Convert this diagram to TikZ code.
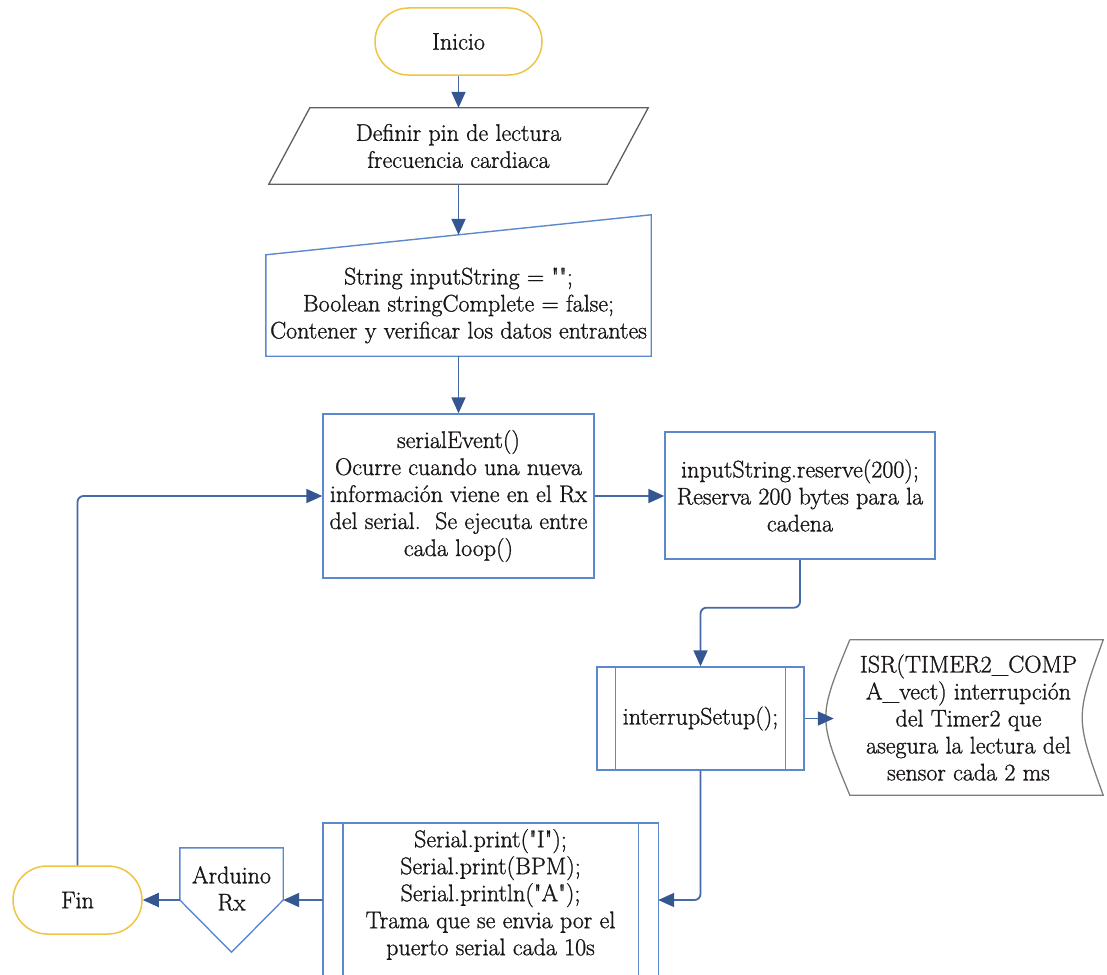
\documentclass[tikz,border=0pt]{standalone}
\usepackage{fontspec}
\setmainfont{Latin Modern Roman}[FakeBold=1.1]
\usetikzlibrary{arrows.meta,calc}

\definecolor{boxblue}{RGB}{92,137,205}
\definecolor{linkblue}{RGB}{70,106,165}
\definecolor{tipblue}{RGB}{52,86,145}
\definecolor{termgold}{RGB}{240,196,64}
\definecolor{ioframe}{RGB}{95,95,95}
\definecolor{dataframe}{RGB}{125,125,125}
\definecolor{ink}{RGB}{26,22,22}

\begin{document}
\begin{tikzpicture}[x=1pt,y=-1pt,
  every node/.style={font=\fontsize{24}{27}\selectfont, text=ink, align=center, inner sep=0pt},
  terminal/.style={draw=termgold, line width=1.5pt, rounded corners=#1},
  proc/.style={draw=boxblue, line width=1.4pt},
  link/.style={draw=linkblue, line width=1.8pt, -{Triangle[length=16pt,width=14pt,color=tipblue]}},
]
\useasboundingbox (0,0) rectangle (1107,974);
\clip (0,0) rectangle (1107,974);

% start terminal
\node[terminal=33.5pt, minimum width=167pt, minimum height=67pt] (ini) at (458.5,41.5) {Inicio};

% input/output parallelogram
\node[minimum width=379pt, minimum height=76pt] (par) at (458.5,146) {Definir pin de lectura\\frecuencia cardiaca};
\draw[ioframe, line width=1.3pt] ([xshift=41pt]par.north west) -- (par.north east)
  -- ([xshift=-41pt]par.south east) -- (par.south west) -- cycle;

% manual input
\node[minimum width=385pt, minimum height=101pt] (inp) at (458.5,305.5)
  {String inputString = \textquotedbl\textquotedbl;\\Boolean stringComplete = false;\\Contener y verificar los datos entrantes};
\draw[proc] (inp.north west) -- ([yshift=40pt]inp.north east) -- (inp.south east) -- (inp.south west) -- cycle;
\coordinate (inptop) at ([yshift=20pt]inp.north);

% serial event process
\node[proc, minimum width=271pt, minimum height=164pt] (sev) at (458.5,496)
  {serialEvent()\\Ocurre cuando una nueva\\información viene en el Rx\\del serial.\ \ Se ejecuta entre\\cada loop()};

% buffer reservation
\node[proc, minimum width=270pt, minimum height=127pt] (ist) at (800,495.5)
  {inputString.reserve(200);\\Reserva 200 bytes para la\\cadena};

% predefined process: interrupt setup
\node[proc, minimum width=207pt, minimum height=103pt] (isu) at (700.5,718.5) {interrupSetup();};
\draw[proc] ([xshift=19pt]isu.north west) -- ([xshift=19pt]isu.south west)
            ([xshift=-19pt]isu.north east) -- ([xshift=-19pt]isu.south east);

% stored data: timer interrupt
\node[minimum width=269pt, minimum height=155pt] (isr) at (968.5,717.5)
  {ISR(TIMER2\_COMP\\A\_vect) interrupción\\del Timer2 que\\asegura la lectura del\\sensor cada 2 ms};
\draw[dataframe, line width=1.3pt] ([xshift=16pt]isr.north west) -- (isr.north east)
  .. controls ([xshift=-28pt]isr.east) .. (isr.south east)
  -- ([xshift=16pt]isr.south west)
  .. controls ([xshift=-16pt]isr.west) .. ([xshift=16pt]isr.north west);

% predefined process: serial frame
\node[minimum width=335pt, minimum height=143pt] (serp) at (490.5,894.5)
  {Serial.print(\textquotedbl I\textquotedbl);\\Serial.print(BPM);\\Serial.println(\textquotedbl A\textquotedbl);\\Trama que se envia por el\\puerto serial cada 10s};
\draw[proc] ([yshift=-30pt]serp.south west) -- (serp.north west) -- (serp.north east) -- ([yshift=-30pt]serp.south east);
\draw[proc] ([xshift=20pt]serp.north west) -- ([xshift=20pt,yshift=-30pt]serp.south west)
            ([xshift=-20pt]serp.north east) -- ([xshift=-20pt,yshift=-30pt]serp.south east);

% off-page connector
\node[minimum width=103pt, minimum height=104pt] (arx) at (231.5,900) {};
\draw[proc] (arx.north west) -- (arx.north east) -- (arx.east) -- (arx.south) -- (arx.west) -- cycle;
\node (arxt) at ([yshift=11.5pt]arx.center) {Arduino\\Rx};

% end terminal
\node[terminal=34pt, minimum width=129pt, minimum height=68pt] (fin) at (77.5,900) {Fin};

% connectors
\draw[link] (ini.south) -- (par.north);
\draw[link] (par.south) -- (inptop);
\draw[link] (inp.south) -- (sev.north);
\draw[link] (sev.east) -- (sev.east -| ist.west);
\draw[link, rounded corners=6pt] (ist.south) |- ($(ist.south)!0.45!(isu.north)$) -| (isu.north);
\draw[link] (isu.east) -- (isu.east -| isr.west);
\draw[link, rounded corners=6pt] (isu.south) |- (serp.east |- arx.east);
\draw[link] (serp.west |- arx.east) -- (arx.east);
\draw[link] (arx.west) -- (fin.east);
\draw[link, rounded corners=6pt] (fin.north) |- (sev.west);
\end{tikzpicture}
\end{document}
